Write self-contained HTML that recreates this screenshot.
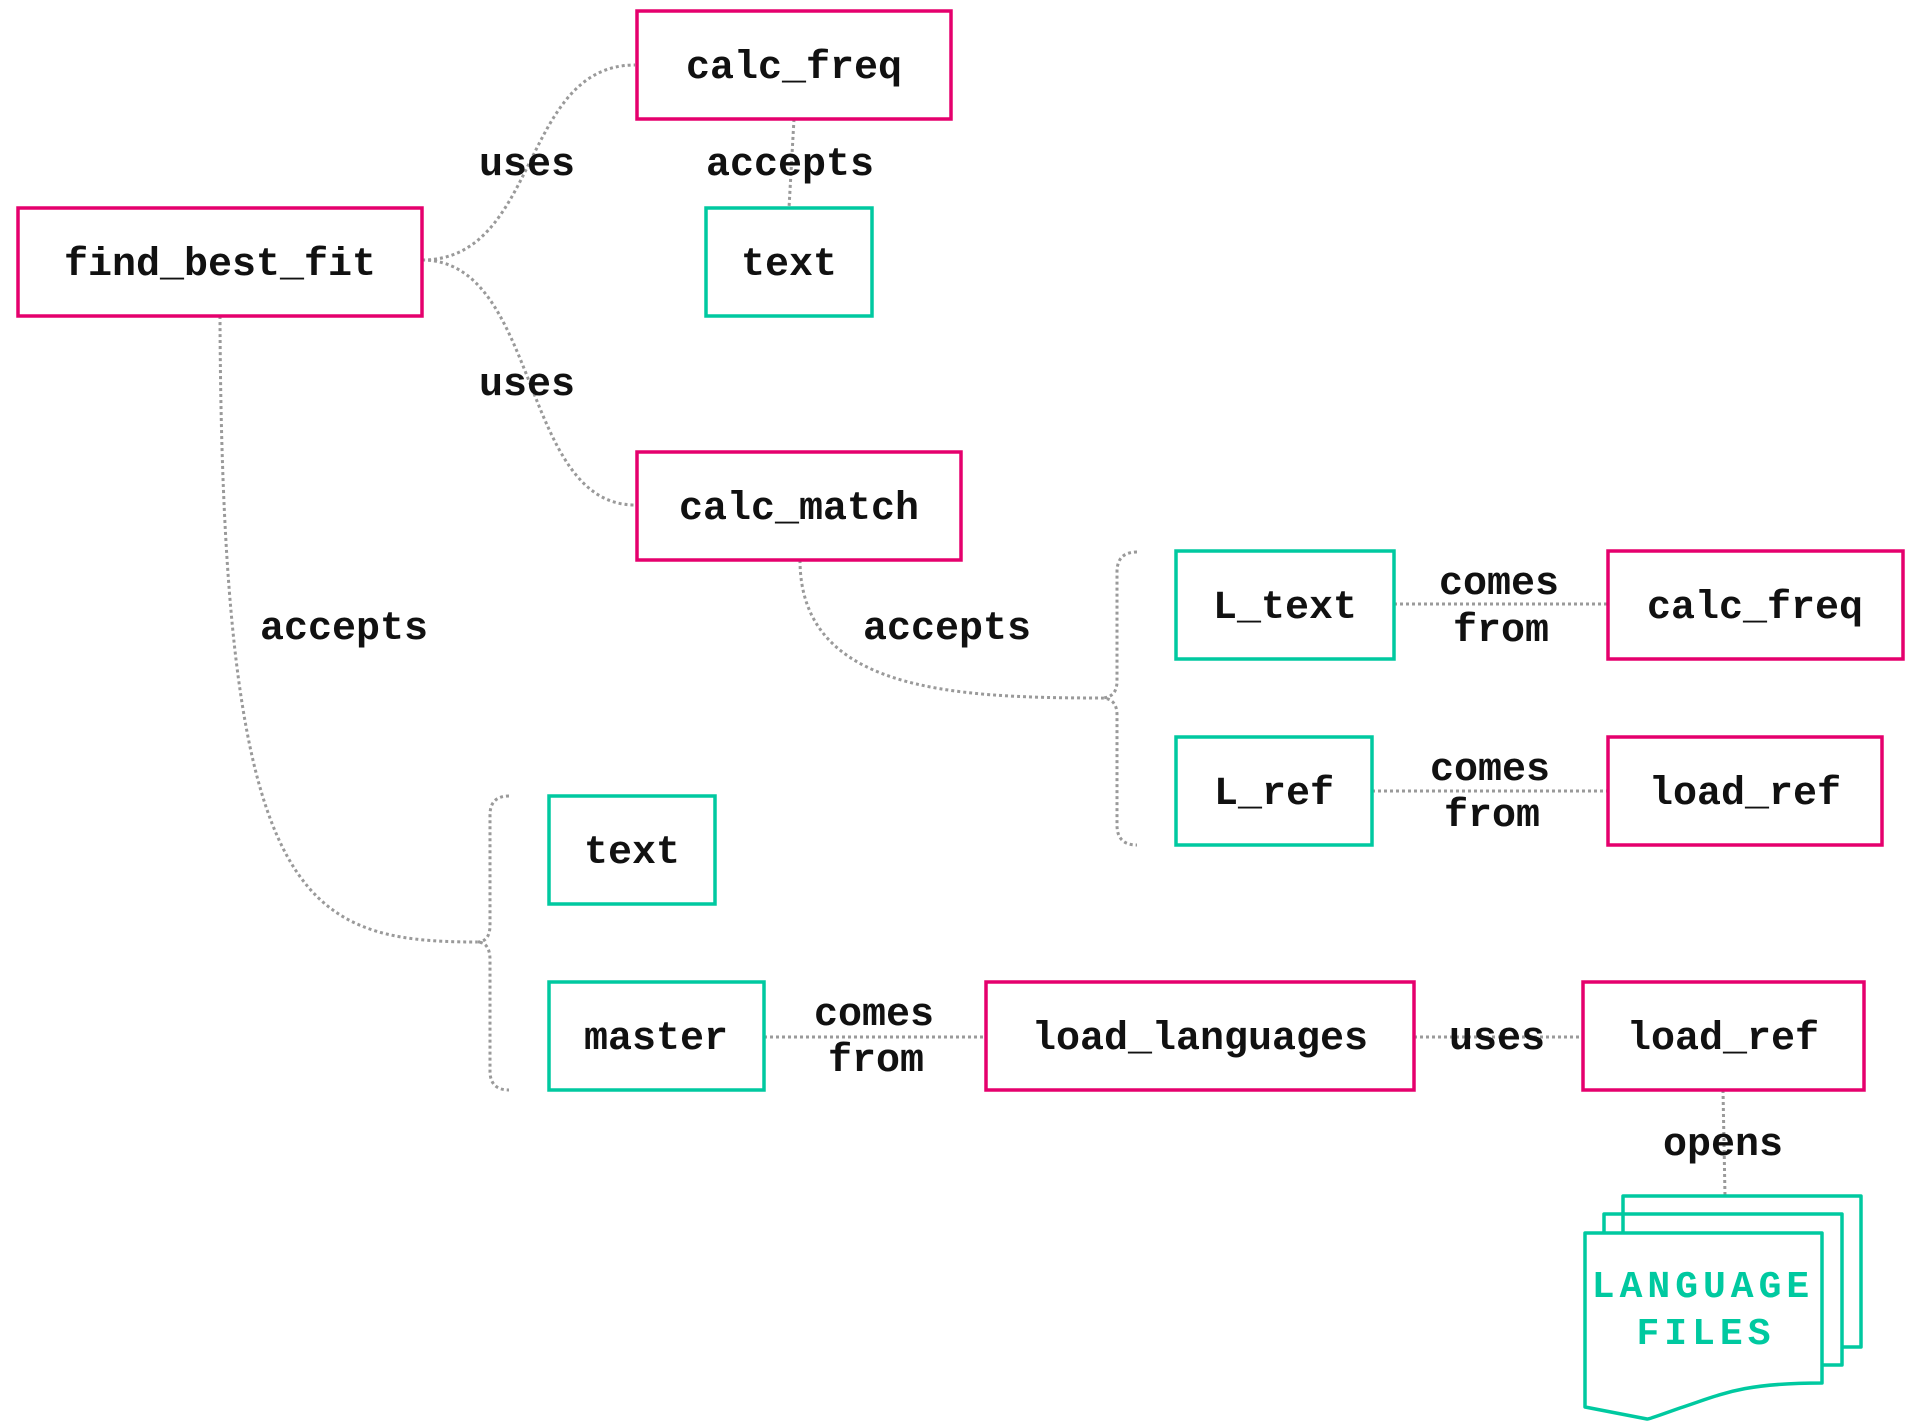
<!DOCTYPE html>
<html><head><meta charset="utf-8"><style>
html,body{margin:0;padding:0;background:#fff;}
svg{display:block;}
text{font-family:"Liberation Mono","DejaVu Sans Mono",monospace;font-weight:bold;font-size:40px;fill:#111;}
.p{fill:none;stroke:#e5006d;stroke-width:3.5;}
.t{fill:none;stroke:#00c9a0;stroke-width:3.5;}
.d{fill:none;stroke:#9a9a9a;stroke-width:3;stroke-dasharray:3 3;}
</style></head><body>
<svg width="1914" height="1424" viewBox="0 0 1914 1424" xmlns="http://www.w3.org/2000/svg">
<!-- connectors -->
<path class="d" d="M422 260 C540 260 520 65 635 65"/>
<path class="d" d="M422 260 C540 260 520 505 635 505"/>
<path class="d" d="M794 119 L789 208"/>
<path class="d" d="M220 316 C222 900 300 942 477 942"/>
<path class="d" d="M509 796 Q490 796 490 815 L490 925 Q490 942 477 942 Q490 942 490 960 L490 1071 Q490 1090 509 1090"/>
<path class="d" d="M800 560 C800 690 950 698 1101 698"/>
<path class="d" d="M1137 552 Q1117 552 1117 572 L1117 681 Q1117 698 1101 698 Q1117 698 1117 715 L1117 825 Q1117 845 1137 845"/>
<path class="d" d="M1394 604 L1608 604"/>
<path class="d" d="M1372 791 L1608 791"/>
<path class="d" d="M764 1037 L986 1037"/>
<path class="d" d="M1414 1037 L1583 1037"/>
<path class="d" d="M1723 1090 L1725 1196"/>
<!-- boxes -->
<rect class="p" x="637" y="11" width="314" height="108"/>
<rect class="p" x="18" y="208" width="404" height="108"/>
<rect class="t" x="706" y="208" width="166" height="108"/>
<rect class="p" x="637" y="452" width="324" height="108"/>
<rect class="t" x="1176" y="551" width="218" height="108"/>
<rect class="p" x="1608" y="551" width="295" height="108"/>
<rect class="t" x="1176" y="737" width="196" height="108"/>
<rect class="p" x="1608" y="737" width="274" height="108"/>
<rect class="t" x="549" y="796" width="166" height="108"/>
<rect class="t" x="549" y="982" width="215" height="108"/>
<rect class="p" x="986" y="982" width="428" height="108"/>
<rect class="p" x="1583" y="982" width="281" height="108"/>
<!-- language files -->
<path class="t" d="M1623 1233 L1623 1196 L1861 1196 L1861 1347 L1842 1347" stroke-linejoin="round"/>
<path class="t" d="M1604 1233 L1604 1214 L1842 1214 L1842 1365 L1822 1365" stroke-linejoin="round"/>
<path class="t" d="M1585 1233 L1822 1233 L1822 1383 C1740 1383 1720 1395 1680 1408 C1660 1415 1650 1419 1647 1419 L1585 1407 Z" stroke-linejoin="round"/>
<text x="1703" y="1297" text-anchor="middle" style="fill:#00c9a0;font-size:38px;letter-spacing:5px">LANGUAGE</text>
<text x="1706" y="1344" text-anchor="middle" style="fill:#00c9a0;font-size:38px;letter-spacing:5px">FILES</text>
<!-- box labels -->
<g text-anchor="middle">
<text x="794" y="78">calc_freq</text>
<text x="220" y="275">find_best_fit</text>
<text x="789" y="275">text</text>
<text x="799" y="519">calc_match</text>
<text x="1285" y="618">L_text</text>
<text x="1755" y="618">calc_freq</text>
<text x="1274" y="804">L_ref</text>
<text x="1745" y="804">load_ref</text>
<text x="632" y="863">text</text>
<text x="656" y="1049">master</text>
<text x="1200" y="1049">load_languages</text>
<text x="1723" y="1049">load_ref</text>
<!-- edge labels -->
<text x="527" y="175">uses</text>
<text x="790" y="175">accepts</text>
<text x="527" y="395">uses</text>
<text x="344" y="639">accepts</text>
<text x="947" y="639">accepts</text>
<text x="1499" y="594">comes</text>
<text x="1501" y="641">from</text>
<text x="1490" y="780">comes</text>
<text x="1492" y="826">from</text>
<text x="874" y="1025">comes</text>
<text x="876" y="1071">from</text>
<text x="1497" y="1049">uses</text>
<text x="1723" y="1155">opens</text>
</g>
</svg>
</body></html>
